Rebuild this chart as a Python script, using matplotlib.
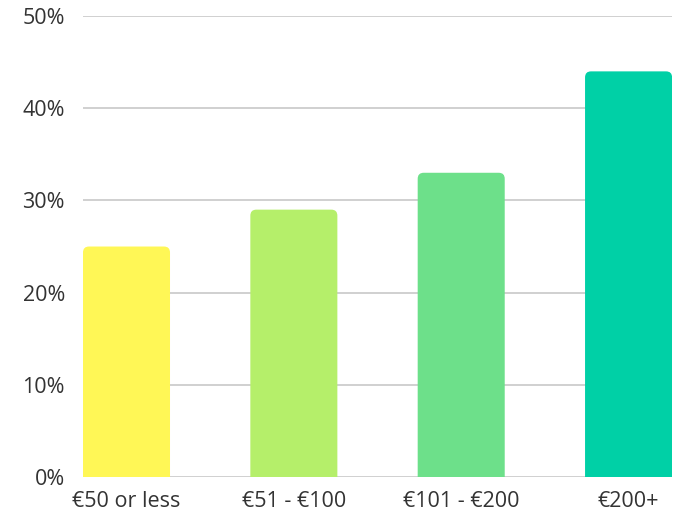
import matplotlib
matplotlib.use('Agg')
import matplotlib.pyplot as plt
from matplotlib.patches import FancyBboxPatch
from matplotlib.ticker import FuncFormatter

categories = ['€50 or less', '€51 - €100', '€101 - €200', '€200+']
values = [25, 29, 33, 44]
colors = ['#FFF756', '#B5EF6A', '#6DE08A', '#00D0A6']
yticks = [0, 10, 20, 30, 40, 50]

plt.rcParams['font.family'] = ['Open Sans', 'DejaVu Sans']

fig = plt.figure(figsize=(6.83, 5.18), dpi=100)
ax = fig.add_axes([0.1215, 0.0792, 0.8625, 0.8898])

bar_w = 0.52
ax.set_xlim(-0.26, 3.26)
ax.set_ylim(0, 50)

# px per data unit so corners come out round
px_x = 0.8625 * 683 / 3.52
px_y = 0.8898 * 518 / 50
r = 6 / px_x
for i, (v, c) in enumerate(zip(values, colors)):
    p = FancyBboxPatch((i - bar_w / 2, -2), bar_w, v + 2,
                       boxstyle='round,pad=0,rounding_size=%f' % r,
                       mutation_aspect=px_x / px_y,
                       facecolor=c, edgecolor='none', zorder=3)
    ax.add_patch(p)

ax.set_yticks(yticks)
ax.yaxis.set_major_formatter(FuncFormatter(lambda v, _: '%d%%' % v))
ax.set_xticks(range(len(categories)))
ax.set_xticklabels(categories)
ax.grid(axis='y', color='#c8c8c8', linewidth=1.2, zorder=0)
ax.set_axisbelow(True)
for s in ax.spines.values():
    s.set_visible(False)
ax.tick_params(axis='y', length=0, pad=13, labelsize=15.5, labelcolor='#333333')
ax.tick_params(axis='x', length=0, pad=10, labelsize=15.5, labelcolor='#333333')

fig.savefig('out.png', dpi=100)
